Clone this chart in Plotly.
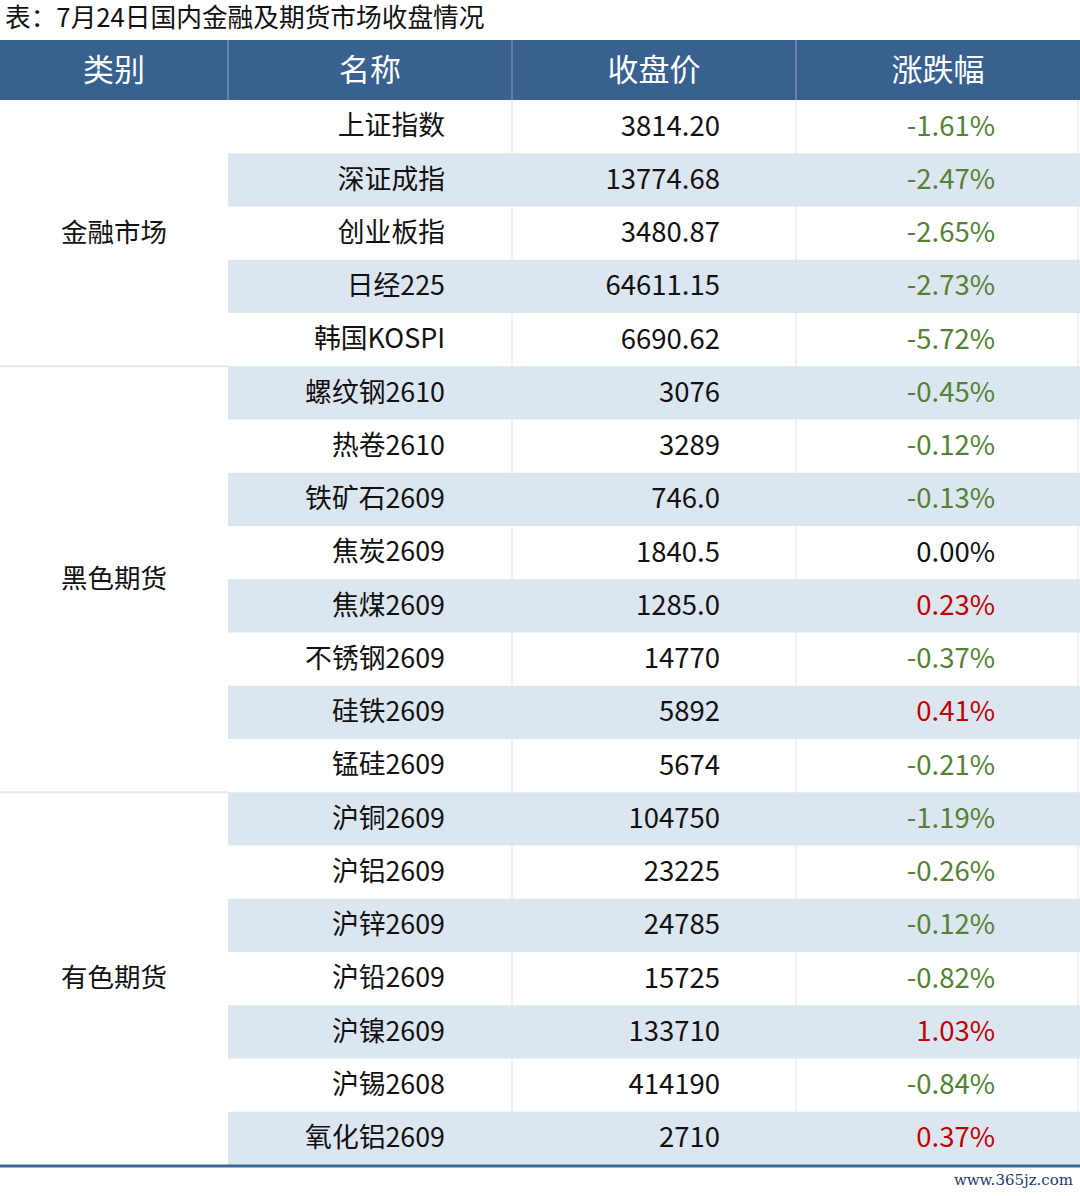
import plotly.graph_objects as go

title = "表：7月24日国内金融及期货市场收盘情况"
headers = ["类别", "名称", "收盘价", "涨跌幅"]

groups = ["金融市场", "黑色期货", "有色期货"]
group_sizes = [5, 8, 7]

names = ["上证指数", "深证成指", "创业板指", "日经225", "韩国KOSPI",
         "螺纹钢2610", "热卷2610", "铁矿石2609", "焦炭2609", "焦煤2609",
         "不锈钢2609", "硅铁2609", "锰硅2609",
         "沪铜2609", "沪铝2609", "沪锌2609", "沪铅2609", "沪镍2609",
         "沪锡2608", "氧化铝2609"]
prices = ["3814.20", "13774.68", "3480.87", "64611.15", "6690.62",
          "3076", "3289", "746.0", "1840.5", "1285.0",
          "14770", "5892", "5674",
          "104750", "23225", "24785", "15725", "133710",
          "414190", "2710"]
changes = [-1.61, -2.47, -2.65, -2.73, -5.72,
           -0.45, -0.12, -0.13, 0.00, 0.23,
           -0.37, 0.41, -0.21,
           -1.19, -0.26, -0.12, -0.82, 1.03,
           -0.84, 0.37]

W, H = 1080, 1196
col_edges = [0, 228, 512, 796, 1080]
head_top, head_bot = 40, 100
row_h = 53.25
header_bg = "#386190"
stripe = "#dce6f0"
green = "#538135"
red = "#c00000"
font = "Noto Sans CJK SC"

n = len(names)
row_top = [head_bot + i * row_h for i in range(n)]
row_mid = [t + row_h / 2 + 2 for t in row_top]

shapes = []
# header
shapes.append(dict(type="rect", xref="x", yref="y", x0=0, x1=W, y0=head_top, y1=head_bot,
                   fillcolor=header_bg, line=dict(width=0), layer="below"))
for x in col_edges[1:-1]:
    shapes.append(dict(type="line", xref="x", yref="y", x0=x, x1=x, y0=head_top, y1=head_bot,
                       line=dict(color="#8fa6c2", width=1)))
# striped rows
for i in range(n):
    if i % 2 == 1:
        shapes.append(dict(type="rect", xref="x", yref="y", x0=col_edges[1], x1=W,
                           y0=row_top[i], y1=row_top[i] + row_h,
                           fillcolor=stripe, line=dict(width=0), layer="below"))
# body vertical separators
for x in col_edges[2:-1] + [W - 2]:
    shapes.append(dict(type="line", xref="x", yref="y", x0=x, x1=x, y0=head_bot, y1=head_bot + n * row_h,
                       line=dict(color="#dfe4ea", width=1)))
# group separators in category column
start = 0
group_mid = []
for g, s in zip(groups, group_sizes):
    top = row_top[start]
    bot = row_top[start + s - 1] + row_h
    group_mid.append((top + bot) / 2 + 2)
    if start > 0:
        shapes.append(dict(type="line", xref="x", yref="y", x0=0, x1=col_edges[1], y0=top, y1=top,
                           line=dict(color="#e3eaf3", width=2)))
    start += s
# bottom rule
bottom = head_bot + n * row_h
shapes.append(dict(type="line", xref="x", yref="y", x0=0, x1=W, y0=bottom + 1, y1=bottom + 1,
                   line=dict(color="#3d6699", width=3)))

change_text = [f"{c:.2f}%" for c in changes]
change_color = [green if c < 0 else (red if c > 0 else "#111111") for c in changes]


def text_trace(x, y, text, pos, size, color, family=font):
    return go.Scatter(x=x, y=y, mode="text", text=text, textposition=pos, cliponaxis=False,
                      textfont=dict(family=family, size=size, color=color), hoverinfo="skip")


fig = go.Figure()
fig.add_trace(text_trace([5], [21], [title], "middle right", 25.7, "#111111"))
head_x = [(col_edges[i] + col_edges[i + 1]) / 2 for i in range(4)]
fig.add_trace(text_trace(head_x, [73] * 4, headers, "middle center", 31, "white"))
fig.add_trace(text_trace([114] * len(groups), group_mid, groups, "middle center", 26.5, "#111111"))
fig.add_trace(text_trace([445] * n, row_mid, names, "middle left", 26.8, "#111111"))
fig.add_trace(text_trace([720] * n, row_mid, prices, "middle left", 27.5, "#111111"))
fig.add_trace(text_trace([995] * n, row_mid, change_text, "middle left", 27.5, change_color))
fig.add_trace(text_trace([1073], [1181], ["www.365jz.com"], "middle left", 15, "#1f3a6b", "DejaVu Serif"))

fig.update_layout(
    width=W, height=H, margin=dict(l=0, r=0, t=0, b=0),
    paper_bgcolor="white", plot_bgcolor="white", showlegend=False,
    shapes=shapes,
    xaxis=dict(range=[0, W], visible=False, fixedrange=True),
    yaxis=dict(range=[H, 0], visible=False, fixedrange=True),
)

# drop the default page margin so the figure sits flush in the window
fig.write_html("out.html", config={"displayModeBar": False},
               post_script="document.body.style.margin='0';")
